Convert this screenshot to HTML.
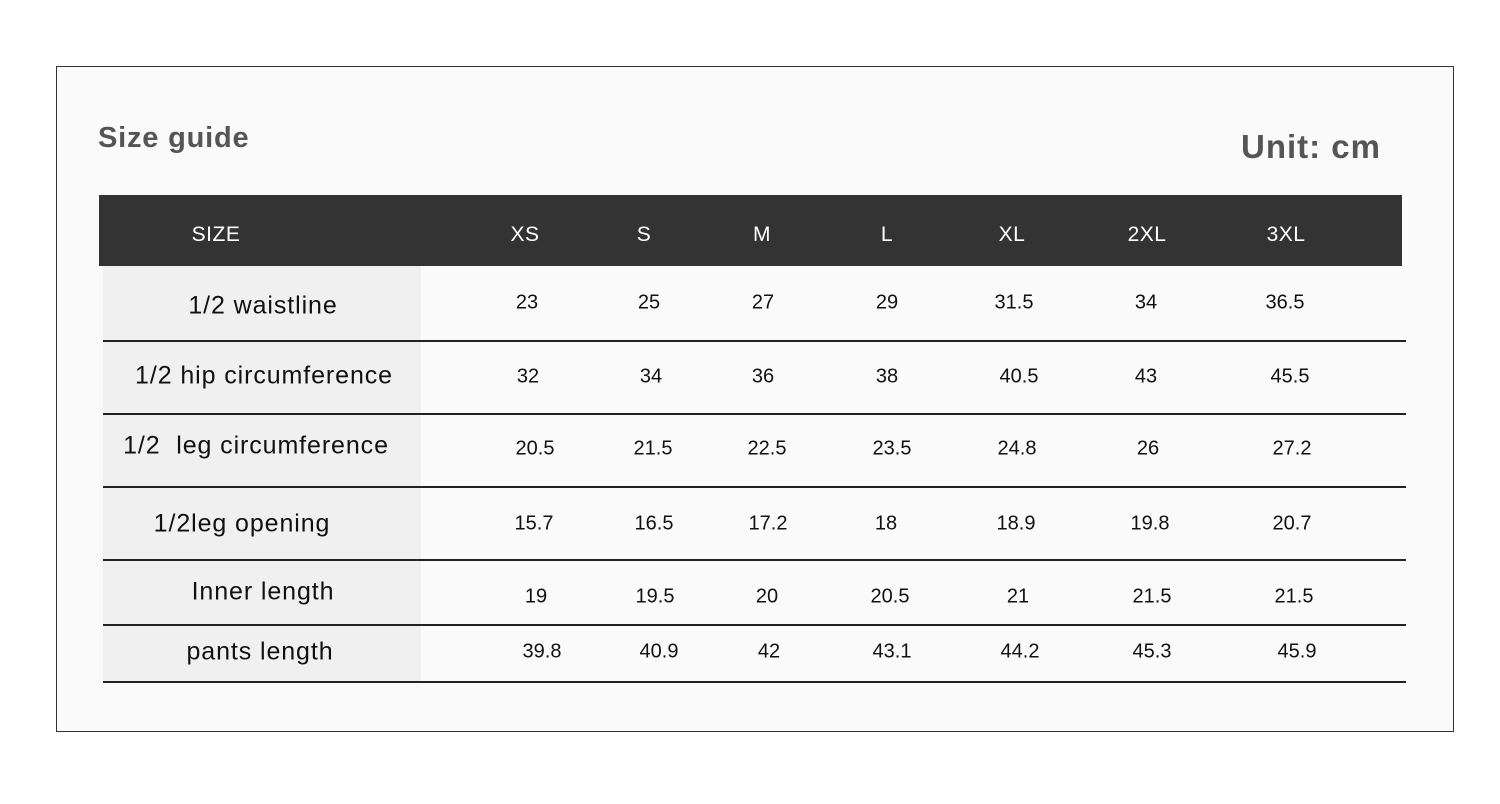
<!DOCTYPE html>
<html><head><meta charset="utf-8"><style>
body{margin:0;width:1500px;height:804px;background:#fff;position:relative;overflow:hidden;font-family:"Liberation Sans",sans-serif}
.box{position:absolute;left:56px;top:66px;width:1396px;height:664px;border:1px solid #333;background:#fafafa}
.hdr{position:absolute;left:99px;top:195px;width:1303px;height:71px;background:#333}
.lab{position:absolute;left:103px;width:318px;background:#f0f0f0}
.ln{position:absolute;left:103px;width:1303px;height:1.5px;background:#222}
.t{position:absolute;transform:translate(-50%,-50%);white-space:nowrap;color:#111;font-size:20px}
.h{color:#fff;font-size:21px;letter-spacing:0.5px}
.l{font-size:25px;letter-spacing:0.9px}
</style></head><body>
<div class="box"></div>
<div style="position:absolute;left:98px;top:122px;font-size:29px;font-weight:bold;color:#555;letter-spacing:0.8px">Size guide</div>
<div style="position:absolute;left:1241px;top:128px;font-size:33px;font-weight:bold;color:#555;letter-spacing:1px">Unit: cm</div>
<div class="hdr"></div>
<div class="lab" style="top:266px;height:74px"></div>
<div class="lab" style="top:341px;height:72px"></div>
<div class="lab" style="top:414px;height:72px"></div>
<div class="lab" style="top:487px;height:72px"></div>
<div class="lab" style="top:560px;height:64px"></div>
<div class="lab" style="top:625px;height:56px"></div>
<div class="ln" style="top:340px"></div>
<div class="ln" style="top:413px"></div>
<div class="ln" style="top:486px"></div>
<div class="ln" style="top:559px"></div>
<div class="ln" style="top:624px"></div>
<div class="ln" style="top:681px"></div>
<div id="c"></div>
<script>
const d=[
[235,[[216,'SIZE'],[525,'XS'],[644,'S'],[762,'M'],[887,'L'],[1012,'XL'],[1147,'2XL'],[1286,'3XL']],'h'],
[303,[[263,'1/2 waistline'],[527,'23'],[649,'25'],[763,'27'],[887,'29'],[1014,'31.5'],[1146,'34'],[1285,'36.5']]],
[377,[[264,'1/2 hip circumference'],[528,'32'],[651,'34'],[763,'36'],[887,'38'],[1019,'40.5'],[1146,'43'],[1290,'45.5']]],
[449,[[256,'1/2&nbsp; leg circumference'],[535,'20.5'],[653,'21.5'],[767,'22.5'],[892,'23.5'],[1017,'24.8'],[1148,'26'],[1292,'27.2']]],
[524,[[242,'1/2leg opening'],[534,'15.7'],[654,'16.5'],[768,'17.2'],[886,'18'],[1016,'18.9'],[1150,'19.8'],[1292,'20.7']]],
[597,[[263,'Inner length'],[536,'19'],[655,'19.5'],[767,'20'],[890,'20.5'],[1018,'21'],[1152,'21.5'],[1294,'21.5']]],
[652,[[260,'pants length'],[542,'39.8'],[659,'40.9'],[769,'42'],[892,'43.1'],[1020,'44.2'],[1152,'45.3'],[1297,'45.9']]]];
let h='';d.forEach((r,ri)=>r[1].forEach((c,i)=>{let y=r[0];let cls='t';if(ri==0)cls+=' h';else if(i==0){cls+=' l';y=[0,306,376,446,524,592,652][ri];}
h+=`<div class="${cls}" style="left:${c[0]}px;top:${y}px">${c[1]}</div>`}));
document.getElementById('c').innerHTML=h;
</script>
</body></html>
